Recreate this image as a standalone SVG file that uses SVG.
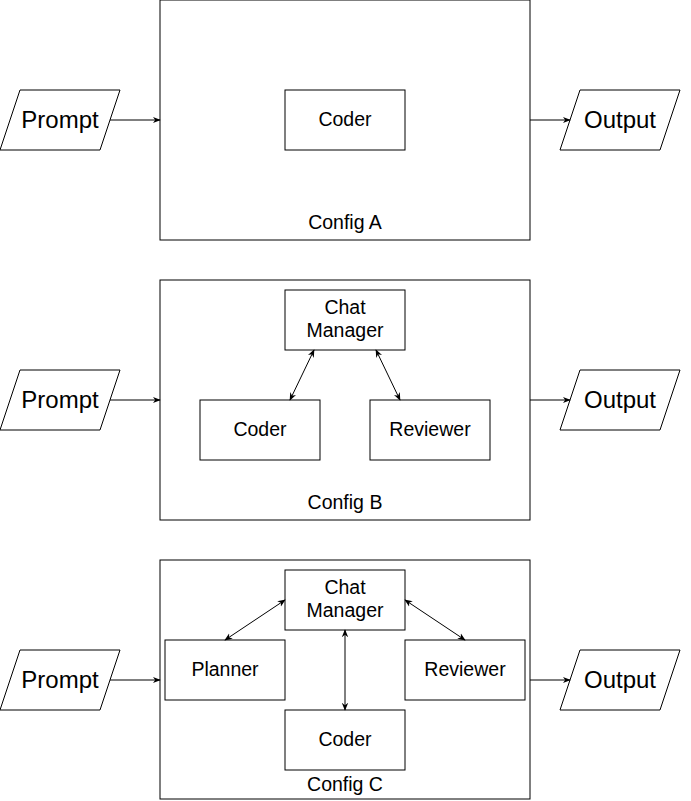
<svg xmlns="http://www.w3.org/2000/svg" width="691" height="801" viewBox="0 0 691 801">
<style>
.box{fill:#fff;stroke:#000;stroke-width:1}
.frame{fill:none;stroke:#000;stroke-width:1}
.t{font-family:"Liberation Sans",Arial,sans-serif;font-size:19.5px;fill:#000;text-anchor:middle}
.big{font-size:24px}
.edge{stroke:#000;stroke-width:1;fill:none}
</style>
<defs>
<marker id="ah" viewBox="0 0 10 10" refX="9" refY="5" markerWidth="8" markerHeight="8" orient="auto-start-reverse" markerUnits="userSpaceOnUse">
<path d="M0,1 L10,5 L0,9 L3,5 Z" fill="#000"/>
</marker>
</defs>
<rect width="691" height="801" fill="#fff"/>
<g id="configA"><rect class="frame" x="160" y="0" width="370" height="240"/><text class="t" x="345" y="229">Config A</text></g>
<g id="configB"><rect class="frame" x="160" y="280" width="370" height="240"/><text class="t" x="345" y="509">Config B</text></g>
<g id="configC"><rect class="frame" x="160" y="560" width="370" height="239"/><text class="t" x="345" y="791">Config C</text></g>

<g id="promptA"><polygon class="box" points="20,90 120,90 100,150 0,150"/><text class="t big" x="60" y="128">Prompt</text></g>
<g id="outputA"><polygon class="box" points="580,90 680,90 660,150 560,150"/><text class="t big" x="620" y="128">Output</text></g>
<g id="coderA"><rect class="box" x="285" y="90" width="120" height="60"/><text class="t" x="345" y="126">Coder</text></g>

<g id="promptB"><polygon class="box" points="20,370 120,370 100,430 0,430"/><text class="t big" x="60" y="408">Prompt</text></g>
<g id="outputB"><polygon class="box" points="580,370 680,370 660,430 560,430"/><text class="t big" x="620" y="408">Output</text></g>
<g id="managerB"><rect class="box" x="285" y="290" width="120" height="60"/><text class="t" x="345" y="314">Chat</text><text class="t" x="345" y="337">Manager</text></g>
<g id="coderB"><rect class="box" x="200" y="400" width="120" height="60"/><text class="t" x="260" y="436">Coder</text></g>
<g id="reviewerB"><rect class="box" x="370" y="400" width="120" height="60"/><text class="t" x="430" y="436">Reviewer</text></g>

<g id="promptC"><polygon class="box" points="20,650 120,650 100,710 0,710"/><text class="t big" x="60" y="688">Prompt</text></g>
<g id="outputC"><polygon class="box" points="580,650 680,650 660,710 560,710"/><text class="t big" x="620" y="688">Output</text></g>
<g id="managerC"><rect class="box" x="285" y="570" width="120" height="60"/><text class="t" x="345" y="594">Chat</text><text class="t" x="345" y="617">Manager</text></g>
<g id="plannerC"><rect class="box" x="165" y="640" width="120" height="60"/><text class="t" x="225" y="676">Planner</text></g>
<g id="reviewerC"><rect class="box" x="405" y="640" width="120" height="60"/><text class="t" x="465" y="676">Reviewer</text></g>
<g id="coderC"><rect class="box" x="285" y="710" width="120" height="60"/><text class="t" x="345" y="746">Coder</text></g>

<g id="connectors">
<line class="edge" x1="110" y1="120" x2="160" y2="120" marker-end="url(#ah)"/>
<line class="edge" x1="530" y1="120" x2="570" y2="120" marker-end="url(#ah)"/>
<line class="edge" x1="110" y1="400" x2="160" y2="400" marker-end="url(#ah)"/>
<line class="edge" x1="530" y1="400" x2="570" y2="400" marker-end="url(#ah)"/>
<line class="edge" x1="110" y1="680" x2="160" y2="680" marker-end="url(#ah)"/>
<line class="edge" x1="530" y1="680" x2="570" y2="680" marker-end="url(#ah)"/>
<line class="edge" x1="314" y1="350" x2="290" y2="400" marker-start="url(#ah)" marker-end="url(#ah)"/>
<line class="edge" x1="376" y1="350" x2="400" y2="400" marker-start="url(#ah)" marker-end="url(#ah)"/>
<line class="edge" x1="285" y1="600" x2="225" y2="640" marker-start="url(#ah)" marker-end="url(#ah)"/>
<line class="edge" x1="405" y1="600" x2="465" y2="640" marker-start="url(#ah)" marker-end="url(#ah)"/>
<line class="edge" x1="345" y1="630" x2="345" y2="710" marker-start="url(#ah)" marker-end="url(#ah)"/>
</g>
</svg>
